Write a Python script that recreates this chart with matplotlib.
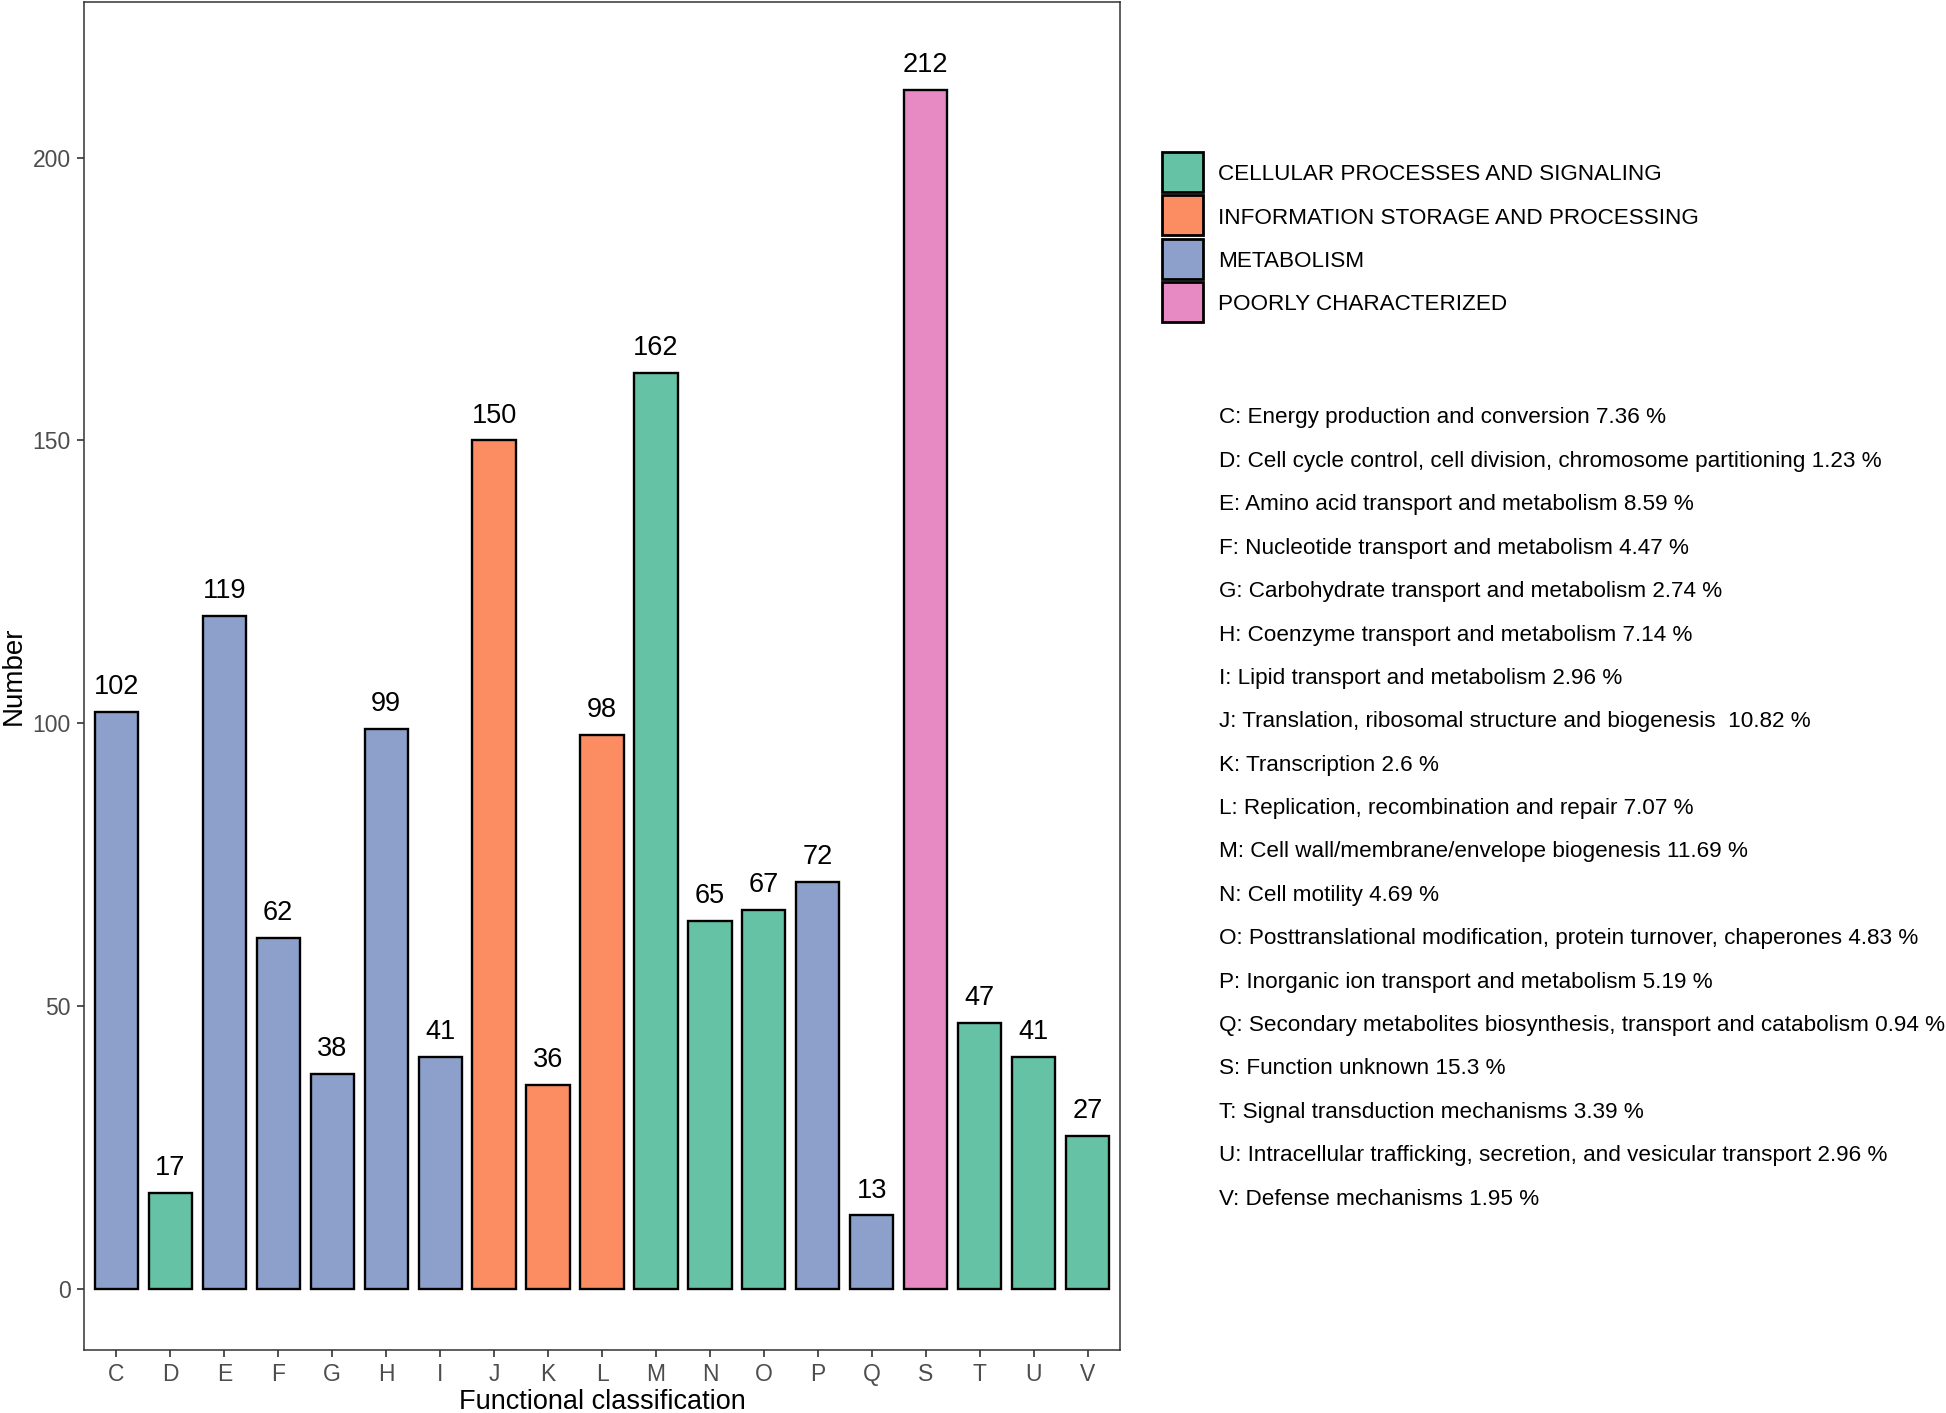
import matplotlib
matplotlib.use("Agg")
import matplotlib.pyplot as plt
from matplotlib.patches import Rectangle

plt.rcParams['font.family'] = ['Liberation Sans', 'DejaVu Sans']

# --- DATA ---
categories = ['C', 'D', 'E', 'F', 'G', 'H', 'I', 'J', 'K', 'L', 'M', 'N', 'O', 'P', 'Q', 'S', 'T', 'U', 'V']
counts = [102, 17, 119, 62, 38, 99, 41, 150, 36, 98, 162, 65, 67, 72, 13, 212, 47, 41, 27]
groups = ['MET', 'CPS', 'MET', 'MET', 'MET', 'MET', 'MET', 'ISP', 'ISP', 'ISP',
          'CPS', 'CPS', 'CPS', 'MET', 'MET', 'PC', 'CPS', 'CPS', 'CPS']
group_names = ['CELLULAR PROCESSES AND SIGNALING', 'INFORMATION STORAGE AND PROCESSING',
               'METABOLISM', 'POORLY CHARACTERIZED']
group_keys = ['CPS', 'ISP', 'MET', 'PC']
group_colors = ['#66C2A5', '#FC8D62', '#8DA0CB', '#E78AC3']
descriptions = [
    "C: Energy production and conversion 7.36 %",
    "D: Cell cycle control, cell division, chromosome partitioning 1.23 %",
    "E: Amino acid transport and metabolism 8.59 %",
    "F: Nucleotide transport and metabolism 4.47 %",
    "G: Carbohydrate transport and metabolism 2.74 %",
    "H: Coenzyme transport and metabolism 7.14 %",
    "I: Lipid transport and metabolism 2.96 %",
    "J: Translation, ribosomal structure and biogenesis  10.82 %",
    "K: Transcription 2.6 %",
    "L: Replication, recombination and repair 7.07 %",
    "M: Cell wall/membrane/envelope biogenesis 11.69 %",
    "N: Cell motility 4.69 %",
    "O: Posttranslational modification, protein turnover, chaperones 4.83 %",
    "P: Inorganic ion transport and metabolism 5.19 %",
    "Q: Secondary metabolites biosynthesis, transport and catabolism 0.94 %",
    "S: Function unknown 15.3 %",
    "T: Signal transduction mechanisms 3.39 %",
    "U: Intracellular trafficking, secretion, and vesicular transport 2.96 %",
    "V: Defense mechanisms 1.95 %",
]

W, H = 1946, 1413
fig = plt.figure(figsize=(W / 100, H / 100), dpi=100)
ax = fig.add_axes([84 / W, (H - 1350) / H, (1120 - 84) / W, (1350 - 2) / H])

color_map = dict(zip(group_keys, group_colors))
x = list(range(len(categories)))
ax.bar(x, counts, width=0.8, color=[color_map[g] for g in groups],
       edgecolor='black', linewidth=1.7, zorder=2)
for xi, v in zip(x, counts):
    ax.annotate(str(v), (xi, v), xytext=(0, 8.5), textcoords='offset points',
                ha='center', va='bottom', fontsize=19.5, color='black')

ax.set_xlim(-0.6, len(categories) - 0.4)
ax.set_ylim(-10.8, 227.5)
ax.set_xticks(x)
ax.set_xticklabels(categories)
ax.set_yticks([0, 50, 100, 150, 200])
ax.tick_params(axis='both', colors='#333333', labelcolor='#4D4D4D',
               labelsize=16.5, length=5, width=1.2, pad=4.5)
for s in ax.spines.values():
    s.set_color('#333333')
    s.set_linewidth(1.1)
ax.set_xlabel('Functional classification', fontsize=19.5, labelpad=2)
ax.set_ylabel('Number', fontsize=20, labelpad=4)

# legend (manual)
box_x, box_w, box_h = 1162, 41, 40
row_y0, row_dy = 172, 43.3
for i, (name, col) in enumerate(zip(group_names, group_colors)):
    cy = row_y0 + i * row_dy
    fig.add_artist(Rectangle((box_x / W, 1 - (cy + box_h / 2) / H), box_w / W, box_h / H,
                             transform=fig.transFigure, facecolor=col,
                             edgecolor='black', linewidth=2.0))
    fig.text(1218 / W, 1 - (cy + 3) / H, name, fontsize=16.2, va='center', ha='left')

# category descriptions
desc_y0, desc_dy = 418, 43.4
for i, d in enumerate(descriptions):
    fig.text(1219 / W, 1 - (desc_y0 + i * desc_dy) / H, d, fontsize=16.2,
             va='center', ha='left')

fig.savefig('out.png', dpi=100)
